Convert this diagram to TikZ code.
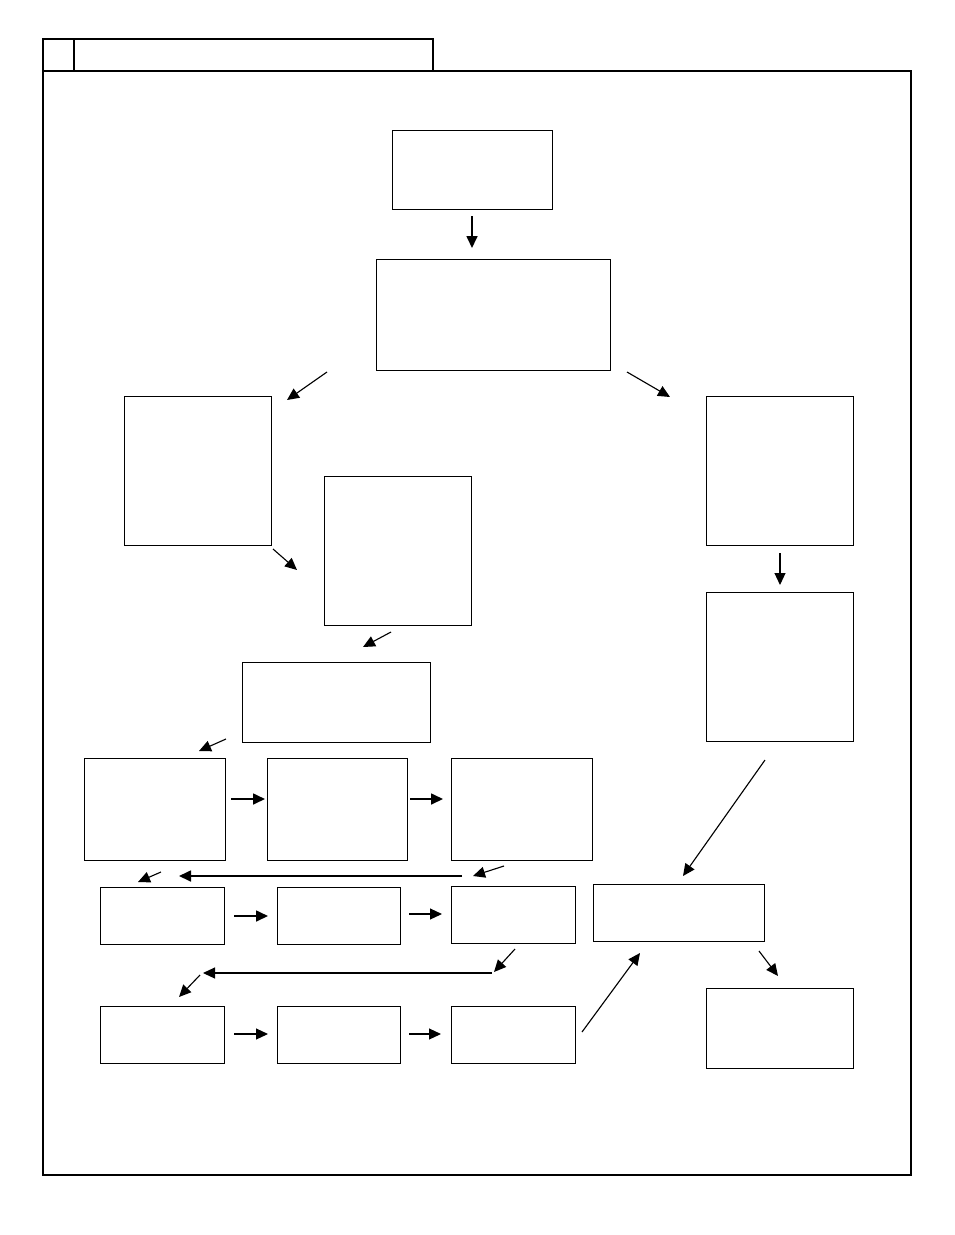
\documentclass[tikz,border=0pt]{standalone}
\usetikzlibrary{arrows.meta,positioning}
\def\px{0.025cm}
\tikzset{
  stepbox/.style={draw, line width=0.6pt, inner sep=0pt, minimum width=#1},
  stepbox/.default=147*\px,
  frameline/.style={line width=1.4pt},
  flow/.style={-{Triangle[length=12*\px, width=11*\px]}, line width=1.2pt},
  thinflow/.style={-{Triangle[length=12*\px, width=11*\px]}, line width=0.8pt}
}
\begin{document}
\begin{tikzpicture}[x=\px, y=-\px]
  \useasboundingbox (0,0) rectangle (954,1235);
  % frame and header tab
  \draw[frameline] (43,71) rectangle (911,1175);
  \draw[frameline] (43,39) rectangle (433,71);
  \draw[frameline] (74,39) -- (74,71);

  % boxes
  \node[stepbox=160*\px, minimum height=79*\px] (start) at (472,169.5) {};
  \node[stepbox=234*\px, minimum height=111*\px] (main) at (493,314.5) {};
  \node[stepbox, minimum height=149*\px] (left) at (197.5,470.5) {};
  \node[stepbox, minimum height=149*\px] (mid) at (397.5,550.5) {};
  \node[stepbox, minimum height=149*\px] (rtop) at (779.5,470.5) {};
  \node[stepbox, minimum height=149*\px] (rmid) at (779.5,666.5) {};
  \node[stepbox=188*\px, minimum height=80*\px] (merge) at (336,702) {};
  \node[stepbox=141*\px, minimum height=102*\px] (ra) at (154.5,809) {};
  \node[stepbox=140*\px, minimum height=102*\px] (rb) at (337,809) {};
  \node[stepbox=141*\px, minimum height=102*\px] (rc) at (521.5,809) {};
  \node[stepbox=124*\px, minimum height=57*\px] (sa) at (162,915.5) {};
  \node[stepbox=123*\px, minimum height=57*\px] (sb) at (338.5,915.5) {};
  \node[stepbox=124*\px, minimum height=57*\px] (sc) at (513,914.5) {};
  \node[stepbox=171*\px, minimum height=57*\px] (join) at (678.5,912.5) {};
  \node[stepbox=124*\px, minimum height=57*\px] (ta) at (162,1034.5) {};
  \node[stepbox=123*\px, minimum height=57*\px] (tb) at (338.5,1034.5) {};
  \node[stepbox=124*\px, minimum height=57*\px] (tc) at (513,1034.5) {};
  \node[stepbox, minimum height=80*\px] (final) at (779.5,1028) {};

  % arrow ends
  \coordinate (start-o) at (472,216);  \coordinate (main-i) at (472,248);
  \coordinate (main-l) at (327,372);   \coordinate (left-i) at (287,400);
  \coordinate (main-r) at (627,372);   \coordinate (rtop-i) at (670,397);
  \coordinate (left-o) at (273,549);   \coordinate (mid-i) at (297,570);
  \coordinate (rtop-o) at (780,553);   \coordinate (rmid-i) at (780,585);
  \coordinate (mid-o) at (391,632);    \coordinate (merge-i) at (363,647);
  \coordinate (merge-o) at (226,739);  \coordinate (ra-i) at (199,751);
  \coordinate (ra-o) at (231,799);     \coordinate (rb-i) at (265,799);
  \coordinate (rb-o) at (410,799);     \coordinate (rc-i) at (443,799);
  \coordinate (rc-o) at (504,866);     \coordinate (sc-i) at (473,876);
  \coordinate (back1-s) at (462,876);  \coordinate (back1-e) at (179,876);
  \coordinate (back1-o) at (161,872);  \coordinate (sa-i) at (138,882);
  \coordinate (sa-o) at (234,916);     \coordinate (sb-i) at (268,916);
  \coordinate (sb-o) at (409,914);     \coordinate (sc-i2) at (442,914);
  \coordinate (rmid-o) at (765,760);   \coordinate (join-i) at (683,876);
  \coordinate (sc-o) at (515,949);     \coordinate (back2-s) at (494,972);
  \coordinate (back2-f) at (492,973);  \coordinate (back2-e) at (203,973);
  \coordinate (back2-o) at (200,975);  \coordinate (ta-i) at (179,997);
  \coordinate (ta-o) at (234,1034);    \coordinate (tb-i) at (268,1034);
  \coordinate (tb-o) at (409,1034);    \coordinate (tc-i) at (441,1034);
  \coordinate (tc-o) at (582,1032);    \coordinate (join-b) at (640,953);
  \coordinate (join-o) at (759,951);   \coordinate (final-i) at (778,976);

  % connectors
  \draw[flow] (start-o) -- (main-i);
  \draw[thinflow] (main-l) -- (left-i);
  \draw[thinflow] (main-r) -- (rtop-i);
  \draw[thinflow] (left-o) -- (mid-i);
  \draw[thinflow] (rtop-o) -- (rmid-i);
  \draw[thinflow] (mid-o) -- (merge-i);
  \draw[thinflow] (merge-o) -- (ra-i);
  \draw[flow] (ra-o) -- (rb-i);
  \draw[flow] (rb-o) -- (rc-i);
  \draw[thinflow] (rc-o) -- (sc-i);
  \draw[flow] (back1-s) -- (back1-e);
  \draw[thinflow] (back1-o) -- (sa-i);
  \draw[flow] (sa-o) -- (sb-i);
  \draw[thinflow] (sb-o) -- (sc-i2);
  \draw[thinflow] (rmid-o) -- (join-i);
  \draw[thinflow] (sc-o) -- (back2-s);
  \draw[thinflow] (back2-f) -- (back2-e);
  \draw[thinflow] (back2-o) -- (ta-i);
  \draw[thinflow] (ta-o) -- (tb-i);
  \draw[thinflow] (tb-o) -- (tc-i);
  \draw[thinflow] (tc-o) -- (join-b);
  \draw[thinflow] (join-o) -- (final-i);
\end{tikzpicture}
\end{document}
